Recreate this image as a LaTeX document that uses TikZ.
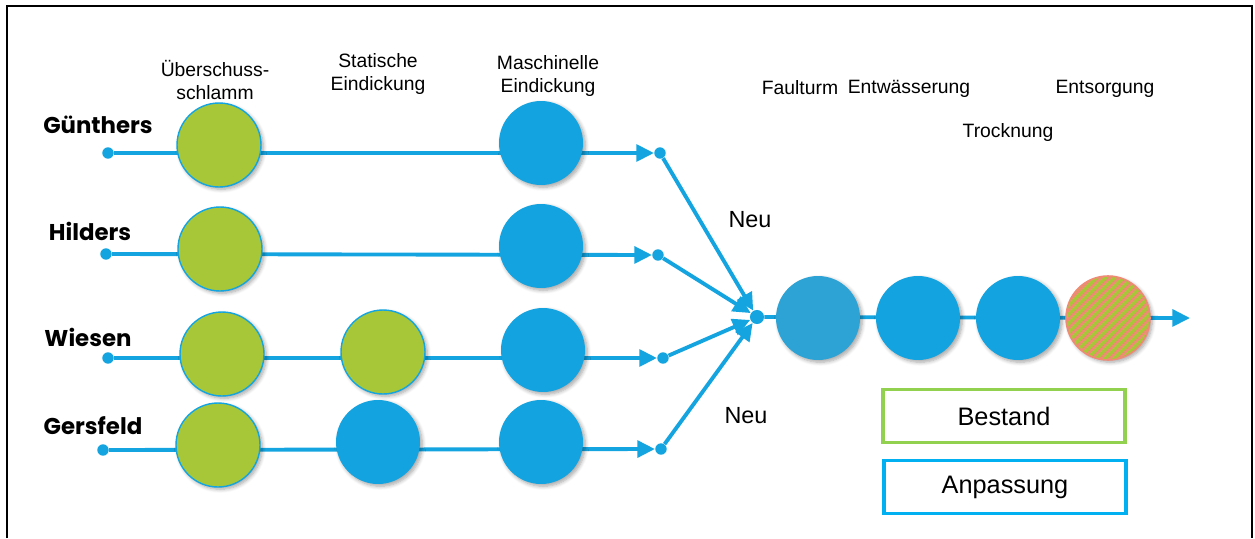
\documentclass[tikz,border=0pt]{standalone}
\usepackage{fontspec}
\setmainfont{Liberation Sans}
\newfontfamily\ortfont{Poppins}
\usepackage{tikz}
\usetikzlibrary{positioning}
\usetikzlibrary{arrows.meta}
\usetikzlibrary{shadows.blur}
\usetikzlibrary{patterns.meta}

\definecolor{linie}{HTML}{14A5E1}
\definecolor{blau}{HTML}{12A3E0}
\definecolor{faul}{HTML}{2CA2D5}
\definecolor{gruen}{HTML}{A8C738}
\definecolor{lachs}{HTML}{EF8A74}
\definecolor{rahmengruen}{HTML}{92D050}
\definecolor{rahmenblau}{HTML}{00B0F0}

\tikzset{
  stufe/.style={circle, minimum size=1.68cm, inner sep=0pt,
    blur shadow={shadow xshift=1.3pt, shadow yshift=-1.3pt, shadow blur steps=6, shadow opacity=35}},
  bestand/.style={stufe, fill=gruen, draw=linie, line width=0.8pt},
  anpassung/.style={stufe, fill=blau},
  punkt/.style={circle, fill=linie, minimum size=6.5pt, inner sep=0pt},
  leitung/.style={draw=linie, line width=2.2pt},
  kopf/.style={align=center, font=\fontsize{11}{13.6}\selectfont},
  ort/.style={font=\ortfont\bfseries\fontsize{13}{15}\selectfont},
  legende/.style={draw, line width=2.1pt, minimum width=4.84cm, minimum height=1.06cm,
    font=\fontsize{14.4}{16}\selectfont}
}

\begin{document}
\begin{tikzpicture}[x=0.02cm, y=-0.02cm, >={Triangle[length=10pt,width=9.5pt]}]
    \useasboundingbox (0,0) rectangle (1255,538);
    \draw[line width=1.3pt] (7,538) |- (1252,6) -- (1252,538);

    % Spaltenköpfe
    \node[kopf] (kschlamm) at (215,80) {Überschuss-\\schlamm};
    \node[kopf] (kstatisch) at (378,74) {Statische\\Eindickung};
    \node[kopf] (kmaschine) at (548,76) {Maschinelle\\Eindickung};
    \node[kopf] (kfaul) at (800,88) {Faulturm};
    \node[kopf] (kentw) at (909,89) {Entwässerung};
    \node[kopf] (ktrock) at (1008,132) {Trocknung};
    \node[kopf] (kentsorg) at (1105,89) {Entsorgung};

    % Standorte
    \node[ort] (guenthers) at (98,125) {Günthers};
    \node[ort] (hilders) at (90,231) {Hilders};
    \node[ort] (wiesen) at (88,337) {Wiesen};
    \node[ort] (gersfeld) at (93,426) {Gersfeld};

    % Anfangs- und Endpunkte
    \node[punkt] (s1) at (108,153) {};
    \node[punkt] (s2) at (106,254) {};
    \node[punkt] (s3) at (108,358) {};
    \node[punkt] (s4) at (103,450) {};
    \node[punkt] (e1) at (660,153) {};
    \node[punkt] (e2) at (658,255) {};
    \node[punkt] (e3) at (663,358) {};
    \node[punkt] (e4) at (661,449) {};
    \node[punkt, minimum size=8pt] (zentral) at (757,317) {};
    \coordinate (ende) at (1190,318);

    \draw[leitung, ->] (s1) -- (e1);
    \draw[leitung, ->] (s2) -- (e2);
    \draw[leitung, ->] (s3) -- (e3);
    \draw[leitung, ->] (s4) -- (e4);
    \draw[leitung, ->] (e1) -- (zentral);
    \draw[leitung, ->] (e2) -- (zentral);
    \draw[leitung, ->] (e3) -- (zentral);
    \draw[leitung, ->] (e4) -- (zentral);
    \draw[leitung, ->] (zentral) -- (ende);

    \node (neu1) at (750,220) {\fontsize{13.3}{15}\selectfont Neu};
    \node (neu2) at (746,416) {\fontsize{13.3}{15}\selectfont Neu};

    % Stufen je Standort
    \node[bestand] (g1) at (219,145) {};
    \node[anpassung] (m1) at (541,143) {};
    \node[bestand] (g2) at (220,249) {};
    \node[anpassung] (m2) at (541,246) {};
    \node[bestand] (g3) at (222,354) {};
    \node[bestand] (st3) at (383,352) {};
    \node[anpassung] (m3) at (543,350) {};
    \node[bestand] (g4) at (218,445) {};
    \node[anpassung] (st4) at (378,442) {};
    \node[anpassung] (m4) at (541,442) {};

    % gemeinsame Strecke
    \node[anpassung, fill=faul] (faulturm) at (818,318) {};
    \node[anpassung] (entw) at (918,318) {};
    \node[anpassung] (trock) at (1018,318) {};
    \node[stufe, fill=gruen, draw=lachs, line width=0.9pt,
      postaction={pattern={Lines[angle=45, distance=3.6pt, line width=1.5pt]}, pattern color=lachs}]
      (entsorg) at (1108,318) {};

    % Legende
    \node[legende, draw=rahmengruen] (bestand) at (1004,416) {Bestand};
    \node[legende, draw=rahmenblau] (anpassung) at (1005,487) {Anpassung};
\end{tikzpicture}
\end{document}
